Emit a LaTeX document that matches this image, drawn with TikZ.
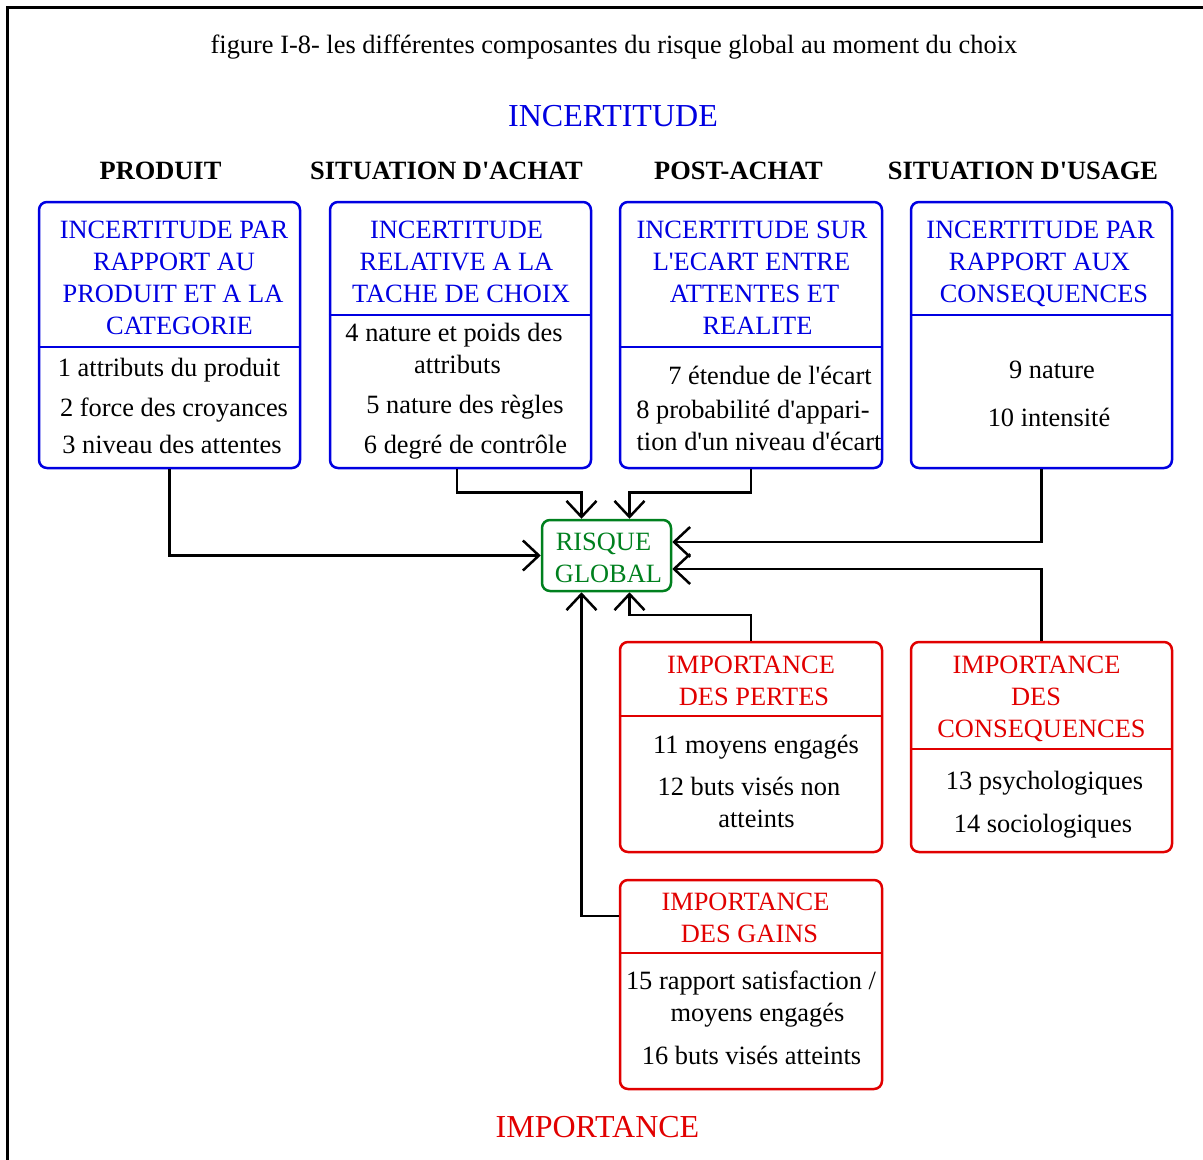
\documentclass[tikz,border=0pt]{standalone}
\usepackage{fontspec}
\setmainfont{Liberation Serif}[Ligatures=TeXOff]
\usetikzlibrary{arrows.meta,calc}
\definecolor{incblue}{RGB}{0,0,225}
\definecolor{impred}{RGB}{225,0,0}
\definecolor{rgreen}{RGB}{0,128,30}
\begin{document}
\begin{tikzpicture}[x=1pt,y=-1pt,
  txt/.style={anchor=base,inner sep=0pt,font=\fontsize{26.4}{32}\selectfont},
  btxt/.style={txt,font=\fontsize{26.4}{32}\selectfont\bfseries},
  bigtxt/.style={txt,font=\fontsize{32}{38}\selectfont},
  cbox/.style={draw=#1,line width=2.5pt,rounded corners=8pt,inner sep=0pt},
  bline/.style={draw=#1,line width=2.5pt},
  arr/.style={draw=black,line width=2.5pt,-{Straight Barb[length=16pt,width=30pt]}}]
\useasboundingbox (0,0) rectangle (1203,1160);
% outer frame (top and left edges)
\draw[line width=3pt] (7,1170) -- (7,7) -- (1213,7);

% titles
\node[txt] (title) at (614,53) {figure I-8- les différentes composantes du risque global au moment du choix};
\node[bigtxt,text=incblue] (incert) at (613,126) {INCERTITUDE};
\node[bigtxt,text=impred] (import) at (597.5,1137) {IMPORTANCE};
\node[btxt] (c1) at (160.5,179) {PRODUIT};
\node[btxt] (c2) at (446.5,179) {SITUATION D'ACHAT};
\node[btxt] (c3) at (738.5,179) {POST-ACHAT};
\node[btxt] (c4) at (1023,179) {SITUATION D'USAGE};

% uncertainty boxes
\node[cbox=incblue,minimum width=261pt,minimum height=266pt] (b1) at (169.5,335) {};
\node[cbox=incblue,minimum width=261pt,minimum height=266pt] (b2) at (460.5,335) {};
\node[cbox=incblue,minimum width=262pt,minimum height=266pt] (b3) at (751,335) {};
\node[cbox=incblue,minimum width=261pt,minimum height=266pt] (b4) at (1041.5,335) {};
\draw[bline=incblue] (b1.west |- 0,347) -- (b1.east |- 0,347);
\draw[bline=incblue] (b2.west |- 0,315) -- (b2.east |- 0,315);
\draw[bline=incblue] (b3.west |- 0,347) -- (b3.east |- 0,347);
\draw[bline=incblue] (b4.west |- 0,315) -- (b4.east |- 0,315);

% box 1
\node[txt,text=incblue] (b1h1) at (174,238) {INCERTITUDE PAR};
\node[txt,text=incblue] (b1h2) at (174,270) {RAPPORT AU};
\node[txt,text=incblue] (b1h3) at (173,302) {PRODUIT ET A LA};
\node[txt,text=incblue] (b1h4) at (179.5,334) {CATEGORIE};
\node[txt] (b1t1) at (169,376) {1 attributs du produit};
\node[txt] (b1t2) at (174,416) {2 force des croyances};
\node[txt] (b1t3) at (172,453) {3 niveau des attentes};

% box 2
\node[txt,text=incblue] (b2h1) at (456.5,238) {INCERTITUDE};
\node[txt,text=incblue] (b2h2) at (456.5,270) {RELATIVE A LA};
\node[txt,text=incblue] (b2h3) at (461,302) {TACHE DE CHOIX};
\node[txt] (b2t1) at (454,341) {4 nature et poids des};
\node[txt] (b2t2) at (457.5,373) {attributs};
\node[txt] (b2t3) at (465,413) {5 nature des règles};
\node[txt] (b2t4) at (465.5,453) {6 degré de contrôle};

% box 3
\node[txt,text=incblue] (b3h1) at (752,238) {INCERTITUDE SUR};
\node[txt,text=incblue] (b3h2) at (751.5,270) {L'ECART ENTRE};
\node[txt,text=incblue] (b3h3) at (754.5,302) {ATTENTES ET};
\node[txt,text=incblue] (b3h4) at (757.5,334) {REALITE};
\node[txt] (b3t1) at (770,384) {7 étendue de l'écart};
\node[txt] (b3t2) at (753,418) {8 probabilité d'appari-};
\node[txt] (b3t3) at (759,450) {tion d'un niveau d'écart};

% box 4
\node[txt,text=incblue] (b4h1) at (1040.5,238) {INCERTITUDE PAR};
\node[txt,text=incblue] (b4h2) at (1039.5,270) {RAPPORT AUX};
\node[txt,text=incblue] (b4h3) at (1044,302) {CONSEQUENCES};
\node[txt] (b4t1) at (1052,378) {9 nature};
\node[txt] (b4t2) at (1049,426) {10 intensité};

% global risk
\node[cbox=rgreen,minimum width=129pt,minimum height=71pt] (rg) at (606.5,555.5) {};
\node[txt,text=rgreen] (rg1) at (603.5,550) {RISQUE};
\node[txt,text=rgreen] (rg2) at (608.5,582) {GLOBAL};

% importance boxes
\node[cbox=impred,minimum width=262pt,minimum height=210pt] (bp) at (751,747) {};
\node[cbox=impred,minimum width=261pt,minimum height=210pt] (bc) at (1041.5,747) {};
\node[cbox=impred,minimum width=262pt,minimum height=209pt] (bg) at (751,984.5) {};
\draw[bline=impred] (bp.west |- 0,716) -- (bp.east |- 0,716);
\draw[bline=impred] (bc.west |- 0,749) -- (bc.east |- 0,749);
\draw[bline=impred] (bg.west |- 0,953) -- (bg.east |- 0,953);

\node[txt,text=impred] (bph1) at (751,673) {IMPORTANCE};
\node[txt,text=impred] (bph2) at (754,705) {DES PERTES};
\node[txt] (bpt1) at (756,753) {11 moyens engagés};
\node[txt] (bpt2) at (749,795) {12 buts visés non};
\node[txt] (bpt3) at (756.5,827) {atteints};

\node[txt,text=impred] (bch1) at (1036.5,673) {IMPORTANCE};
\node[txt,text=impred] (bch2) at (1036,705) {DES};
\node[txt,text=impred] (bch3) at (1041.5,737) {CONSEQUENCES};
\node[txt] (bct1) at (1044.5,789) {13 psychologiques};
\node[txt] (bct2) at (1043,832) {14 sociologiques};

\node[txt,text=impred] (bgh1) at (745.5,910) {IMPORTANCE};
\node[txt,text=impred] (bgh2) at (749.5,942) {DES GAINS};
\node[txt] (bgt1) at (751,989) {15 rapport satisfaction /};
\node[txt] (bgt2) at (757.5,1021) {moyens engagés};
\node[txt] (bgt3) at (751.5,1064) {16 buts visés atteints};

% connectors into the global risk
\coordinate (gin) at ($(bg.north west)+(0,37)$);
\draw[arr] (b1.south) |- (rg.west);
\draw[arr] ($(b2.south)+(-3.5,0)$) -- ++(0,23) -| ($(rg.north)+(-25,0)$);
\draw[arr] (b3.south) -- ++(0,23) -| ($(rg.north)+(23,0)$);
\draw[arr] (b4.south) |- ($(rg.east)+(0,-13.5)$);
\draw[arr] (bc.north) |- ($(rg.east)+(0,13.5)$);
\draw[arr] (bp.north) -- ++(0,-26) -| ($(rg.south)+(23,0)$);
\draw[arr] (gin) -| ($(rg.south)+(-25,0)$);
\end{tikzpicture}
\end{document}
